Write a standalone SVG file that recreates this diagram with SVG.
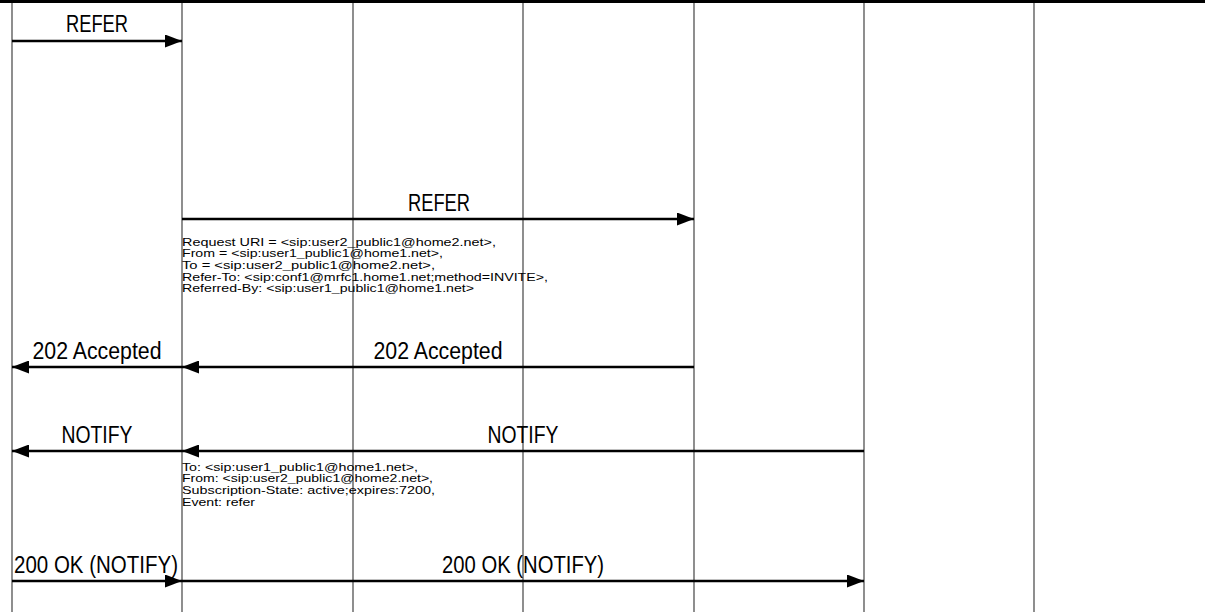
<svg xmlns="http://www.w3.org/2000/svg" width="1205" height="612" viewBox="0 0 1205 612">
<style>
.life{stroke:#444;stroke-width:1.2;fill:none}
.msg{stroke:#000;stroke-width:2.6;fill:none}
.lbl{font-family:"Liberation Sans",Arial,sans-serif;font-size:23px;fill:#000;text-anchor:middle}
.body{font-family:"Liberation Sans",Arial,sans-serif;font-size:11.5px;fill:#000}
</style>
<defs>
<marker id="ah" viewBox="0 0 17 13" refX="17" refY="6.5" markerWidth="17" markerHeight="13" markerUnits="userSpaceOnUse" orient="auto">
<path d="M0,0 L17,6.5 L0,13 Z" fill="#000"/>
</marker>
</defs>
<rect width="1205" height="612" fill="#fff"/>
<g id="lifelines">
<line class="life" x1="12" y1="2" x2="12" y2="612"/>
<line class="life" x1="182" y1="2" x2="182" y2="612"/>
<line class="life" x1="353" y1="2" x2="353" y2="612"/>
<line class="life" x1="523" y1="2" x2="523" y2="612"/>
<line class="life" x1="694" y1="2" x2="694" y2="612"/>
<line class="life" x1="864" y1="2" x2="864" y2="612"/>
<line class="life" x1="1034" y1="2" x2="1034" y2="612"/>
</g>
<line x1="0" y1="1.5" x2="1205" y2="1.5" stroke="#000" stroke-width="3"/>
<g id="connectors">
<line class="msg" x1="12" y1="41" x2="182" y2="41" marker-end="url(#ah)"/>
<line class="msg" x1="182" y1="219" x2="694" y2="219" marker-end="url(#ah)"/>
<line class="msg" x1="694" y1="367" x2="182" y2="367" marker-end="url(#ah)"/>
<line class="msg" x1="182" y1="367" x2="12" y2="367" marker-end="url(#ah)"/>
<line class="msg" x1="864" y1="451" x2="182" y2="451" marker-end="url(#ah)"/>
<line class="msg" x1="182" y1="451" x2="12" y2="451" marker-end="url(#ah)"/>
<line class="msg" x1="12" y1="581" x2="182" y2="581" marker-end="url(#ah)"/>
<line class="msg" x1="182" y1="581" x2="864" y2="581" marker-end="url(#ah)"/>
</g>
<g id="labels">
<text class="lbl" x="97" y="32" textLength="62" lengthAdjust="spacingAndGlyphs">REFER</text>
<text class="lbl" x="439" y="211" textLength="62" lengthAdjust="spacingAndGlyphs">REFER</text>
<text class="lbl" x="97" y="359" textLength="129" lengthAdjust="spacingAndGlyphs">202 Accepted</text>
<text class="lbl" x="438" y="359" textLength="129" lengthAdjust="spacingAndGlyphs">202 Accepted</text>
<text class="lbl" x="97" y="443" textLength="71" lengthAdjust="spacingAndGlyphs">NOTIFY</text>
<text class="lbl" x="523" y="443" textLength="71" lengthAdjust="spacingAndGlyphs">NOTIFY</text>
<text class="lbl" x="96" y="573" textLength="164" lengthAdjust="spacingAndGlyphs">200 OK (NOTIFY)</text>
<text class="lbl" x="523" y="573" textLength="162" lengthAdjust="spacingAndGlyphs">200 OK (NOTIFY)</text>
</g>
<g id="refer-body">
<text class="body" x="182" y="245.5" textLength="314" lengthAdjust="spacingAndGlyphs">Request URI = &lt;sip:user2_public1@home2.net&gt;,</text>
<text class="body" x="182" y="257.2" textLength="261" lengthAdjust="spacingAndGlyphs">From = &lt;sip:user1_public1@home1.net&gt;,</text>
<text class="body" x="182" y="268.9" textLength="253" lengthAdjust="spacingAndGlyphs">To = &lt;sip:user2_public1@home2.net&gt;,</text>
<text class="body" x="182" y="280.6" textLength="366" lengthAdjust="spacingAndGlyphs">Refer-To: &lt;sip:conf1@mrfc1.home1.net;method=INVITE&gt;,</text>
<text class="body" x="182" y="292.3" textLength="292" lengthAdjust="spacingAndGlyphs">Referred-By: &lt;sip:user1_public1@home1.net&gt;</text>
</g>
<g id="notify-body">
<text class="body" x="182" y="470.5" textLength="236" lengthAdjust="spacingAndGlyphs">To: &lt;sip:user1_public1@home1.net&gt;,</text>
<text class="body" x="182" y="482.2" textLength="251" lengthAdjust="spacingAndGlyphs">From: &lt;sip:user2_public1@home2.net&gt;,</text>
<text class="body" x="182" y="493.9" textLength="253" lengthAdjust="spacingAndGlyphs">Subscription-State: active;expires:7200,</text>
<text class="body" x="182" y="505.6" textLength="73" lengthAdjust="spacingAndGlyphs">Event: refer</text>
</g>
</svg>
